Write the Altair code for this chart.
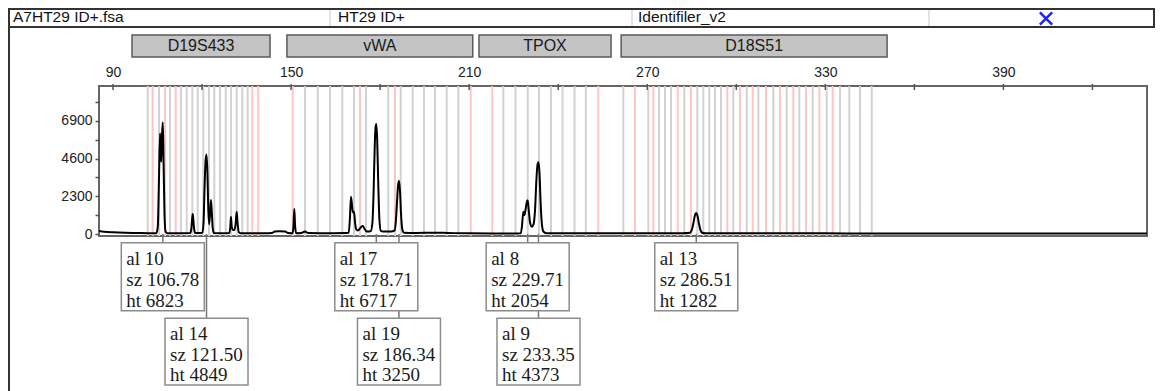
import altair as alt
import pandas as pd

# ---------------- data ----------------
header_texts = ["A7HT29 ID+.fsa", "HT29 ID+", "Identifiler_v2"]

loci = ["D19S433", "vWA", "TPOX", "D18S51"]
locus_start = [96.4, 148.6, 213.3, 261.2]
locus_end = [142.9, 211.2, 257.8, 350.8]

bin_bp = [101.69, 103.37, 105.50, 107.52, 109.20, 111.12, 112.91, 114.83, 116.72, 118.53,
          120.42, 122.34, 124.13, 126.05, 127.97, 129.75, 131.67, 133.56, 135.38, 136.93, 138.95,
          150.54, 154.69, 158.97, 163.11, 167.25, 171.20, 173.22, 175.24, 182.75, 185.01,
          186.93, 190.97, 194.78, 198.49, 202.43, 206.34, 210.52,
          217.79, 221.50, 225.61, 229.72, 233.53, 237.57, 241.45, 245.49, 249.30, 253.51,
          261.93, 265.87, 270.35, 272.04, 273.96, 275.98, 278.00, 280.26, 282.48, 284.74,
          286.86, 288.88, 290.91, 292.83, 294.85, 296.97, 298.99, 301.25, 303.51, 305.53,
          307.42, 310.01, 312.47, 314.73, 316.98, 319.21, 321.23, 323.49, 325.74, 327.97,
          330.46, 332.48, 334.94, 338.08, 341.68, 345.62]
bin_kind = ["bin", "virtual", "bin", "virtual", "bin", "virtual", "bin", "bin", "bin", "bin",
            "bin", "bin", "bin", "bin", "bin", "bin", "bin", "bin", "bin", "virtual", "virtual",
            "virtual", "bin", "bin", "bin", "bin", "bin", "virtual", "bin", "bin", "virtual",
            "bin", "bin", "bin", "bin", "bin", "bin", "virtual",
            "virtual", "bin", "bin", "bin", "bin", "bin", "bin", "bin", "bin", "virtual",
            "bin", "virtual", "bin", "virtual", "bin", "bin", "bin", "virtual", "bin", "virtual",
            "bin", "bin", "bin", "bin", "bin", "virtual", "bin", "virtual", "bin", "virtual",
            "bin", "virtual", "bin", "virtual", "bin", "virtual", "bin", "virtual", "bin", "virtual",
            "bin", "virtual", "bin", "bin", "bin", "bin"]

trace_bp = [85.3, 87, 90, 94, 98, 102, 104.6, 105.1, 105.45, 105.85, 106.25, 106.5, 106.78,
            107.05, 107.35, 107.7, 108.3, 112, 116.0, 116.4, 116.65, 116.85, 117.05, 117.3, 117.7,
            120.1, 120.5, 120.85, 121.2, 121.5, 121.8, 122.1, 122.4, 122.7, 123.0, 123.3, 123.6,
            124.0, 127, 129.2, 129.5, 129.75, 130.0, 130.4, 130.9, 131.3, 131.67, 132.0, 132.4,
            133, 137, 141, 143.5, 144.5, 146, 148, 149, 150.5, 150.8, 151.08, 151.35, 151.7,
            153.5, 154.7, 155.7, 160, 164, 168, 169.4, 169.8, 170.18, 170.6, 170.9, 171.2, 171.55,
            171.9, 172.5, 173.4, 174.13, 174.8, 175.5, 176.8, 177.4, 177.8, 178.2, 178.45, 178.71,
            179.0, 179.35, 179.75, 180.2, 181, 184, 184.9, 185.3, 185.7, 186.0, 186.34, 186.7,
            187.05, 187.45, 188, 192, 198, 203, 210, 218, 224, 227.4, 227.8, 228.24, 228.6, 229.0,
            229.35, 229.71, 230.05, 230.5, 231.1, 231.7, 232.2, 232.65, 233.0, 233.35, 233.7,
            234.05, 234.5, 235.0, 236, 245, 255, 265, 275, 282, 284.4, 285.0, 285.6, 286.0, 286.51,
            287.0, 287.4, 287.9, 288.5, 289.5, 300, 315, 330, 345, 365, 390, 415, 438.3]
trace_rfu = [180, 140, 100, 70, 60, 50, 50, 500, 3000, 6150, 4400, 6000, 6823,
             4200, 1200, 150, 50, 50, 60, 350, 900, 1220, 900, 350, 60,
             80, 700, 2900, 4500, 4849, 3800, 1500, 600, 1300, 2074, 1300, 350,
             60, 50, 60, 400, 1060, 450, 250, 250, 600, 1360, 600, 100,
             50, 40, 40, 60, 150, 170, 150, 60, 50, 500, 1525, 500, 50,
             60, 160, 60, 50, 50, 60, 80, 900, 2280, 1600, 1300, 1360, 700,
             300, 220, 380, 510, 300, 150, 170, 700, 2600, 5500, 6500, 6717,
             5800, 3200, 900, 200, 150, 160, 220, 800, 2000, 2900, 3250, 2600,
             1200, 300, 80, 60, 80, 60, 40, 30, 30, 50, 500, 1360, 1150, 1500,
             1900, 2054, 1500, 700, 450, 600, 1500, 3300, 4200, 4373, 3700,
             2000, 600, 150, 50, 40, 40, 40, 50, 50, 80, 250, 700, 1100, 1282,
             1050, 650, 250, 80, 50, 50, 40, 40, 30, 30, 30, 30, 30]

label_locus = ["D19S433", "D19S433", "vWA", "vWA", "TPOX", "TPOX", "D18S51"]
label_allele = ["10", "14", "17", "19", "8", "9", "13"]
label_size = [106.78, 121.50, 178.71, 186.34, 229.71, 233.35, 286.51]
label_height = [6823, 4849, 6717, 3250, 2054, 4373, 1282]

x_ticks = [90, 120, 150, 180, 210, 240, 270, 300, 330, 360, 390, 420]
x_tick_labels = [90, 150, 210, 270, 330, 390]
y_ticks = [0, 1150, 2300, 3450, 4600, 5750, 6900, 8050]
y_tick_labels = [0, 2300, 4600, 6900]

# ---------------- frames ----------------
bins_df = pd.DataFrame({"bp": bin_bp, "kind": bin_kind})
trace_df = pd.DataFrame({"bp": trace_bp, "rfu": trace_rfu})
loci_df = pd.DataFrame({"locus": loci, "start": locus_start, "end": locus_end})
labels_df = pd.DataFrame({"locus": label_locus, "allele": label_allele,
                          "size": label_size, "height": label_height})
ticks_df = pd.DataFrame({"bp": x_ticks})
one = pd.DataFrame({"k": [0]})

SANS = "Liberation Sans"
SERIF = "Liberation Serif"

xscale = alt.Scale(domain=[85.28, 438.37], nice=False, zero=False)
yscale = alt.Scale(domain=[-122, 9030], nice=False, zero=False)
xaxis = alt.Axis(orient="top", values=x_tick_labels, tickSize=0, labelPadding=7,
                 domain=False, grid=False, labelFont=SANS, labelFontSize=14,
                 labelColor="#222", format="d", title=None)
ylab_expr = "indexof([" + ",".join(str(v) for v in y_tick_labels) + "], datum.value) >= 0 ? datum.label : ''"
yaxis = alt.Axis(values=y_ticks, labelExpr=ylab_expr, format="d", tickSize=4,
                 tickColor="#555", tickWidth=1.5, labelPadding=3, domain=False, grid=False,
                 labelFont=SANS, labelFontSize=14, labelColor="#222", title=None)


def X(field):
    return alt.X(field, type="quantitative", scale=xscale, axis=xaxis)


layers = []

# bins
layers.append(alt.Chart(bins_df).mark_rule(strokeWidth=2).encode(
    x=X("bp"), y=alt.value(0), y2=alt.value(150),
    color=alt.Color("kind:N", scale=alt.Scale(domain=["bin", "virtual"],
                                              range=["#d2d2d2", "#ffc4c4"]), legend=None)))

# x ticks (cross the top border)
layers.append(alt.Chart(ticks_df).mark_rule(color="#555", strokeWidth=1.5).encode(
    x=X("bp"), y=alt.value(-2), y2=alt.value(4)))

# trace
layers.append(alt.Chart(trace_df).mark_line(color="#000", strokeWidth=2,
                                             interpolate="monotone").encode(
    x=X("bp"), y=alt.Y("rfu:Q", scale=yscale, axis=yaxis)))

# peak labels
lab = alt.Chart(labels_df).transform_window(
    row="row_number()", groupby=["locus"], sort=[alt.SortField("size")]
).transform_calculate(
    l1="'al ' + datum.allele",
    l2="'sz ' + format(datum.size, '.2f')",
    l3="'ht ' + datum.height",
)
rows = {1: dict(top=156.7, bot=224.7, ys=[179, 200, 220.7]),
        2: dict(top=232.3, bot=299, ys=[254, 274.7, 294.7])}
for r in (2, 1):
    g = rows[r]
    base = lab.transform_filter(alt.datum.row == r)
    layers.append(base.mark_rule(color="#777", strokeWidth=1.5).encode(
        x=X("size"), y=alt.value(148), y2=alt.value(g["top"])))
for r in (1, 2):
    g = rows[r]
    base = lab.transform_filter(alt.datum.row == r)
    layers.append(base.mark_rect(fill="white", stroke="#8c8c8c", strokeWidth=1.5,
                                 xOffset=-41.5, x2Offset=41.5).encode(
        x=X("size"), x2="size", y=alt.value(g["top"]), y2=alt.value(g["bot"])))
    for fld, yy in zip(["l1", "l2", "l3"], g["ys"]):
        layers.append(base.mark_text(align="left", baseline="alphabetic", dx=-36.5,
                                     font=SERIF, fontSize=19, color="#1a1a1a").encode(
            x=X("size"), y=alt.value(yy), text=f"{fld}:N"))

# locus bars
loc = alt.Chart(loci_df).transform_calculate(mid="(datum.start + datum.end) / 2")
layers.append(loc.mark_rect(fill="#c4c4c4", stroke="#5a5a5a", strokeWidth=1.5).encode(
    x=X("start"), x2="end", y=alt.value(-51), y2=alt.value(-29)))
layers.append(loc.mark_text(font=SANS, fontSize=16, color="#1a1a1a", baseline="middle").encode(
    x=X("mid"), y=alt.value(-40), text="locus:N"))

# header row
layers.append(alt.Chart(one).mark_rect(fill="white", stroke="#333", strokeWidth=2).encode(
    x=alt.value(-90), x2=alt.value(1055), y=alt.value(-77), y2=alt.value(-59)))
for xv in (231, 533, 830):
    layers.append(alt.Chart(one).mark_rule(color="#c8c8c8", strokeWidth=1).encode(
        x=alt.value(xv), y=alt.value(-76), y2=alt.value(-60)))
for txt, xv in zip(header_texts, (-86, 239, 539)):
    layers.append(alt.Chart(pd.DataFrame({"t": [txt]})).mark_text(
        align="left", baseline="middle", font=SANS, fontSize=15.5, color="#111").encode(
        x=alt.value(xv), y=alt.value(-69), text="t:N"))
layers.append(alt.Chart(one).mark_point(shape="M-1,-1L1,1M1,-1L-1,1", size=150, filled=False,
                                        stroke="#1e22ff", strokeWidth=2.5, opacity=1).encode(
    x=alt.value(947), y=alt.value(-67.5)))

# outer left frame
layers.append(alt.Chart(one).mark_rule(color="#333", strokeWidth=2).encode(
    x=alt.value(-90), y=alt.value(-77), y2=alt.value(305)))

chart = alt.layer(*layers).properties(
    width=1048, height=150,
    padding={"left": 91, "top": 78, "right": 8, "bottom": 155},
    autosize=alt.AutoSizeParams(type="none"),
).configure_view(stroke="#666", strokeWidth=2)

chart.save("out.html", embed_options={"renderer": "svg", "actions": False})
